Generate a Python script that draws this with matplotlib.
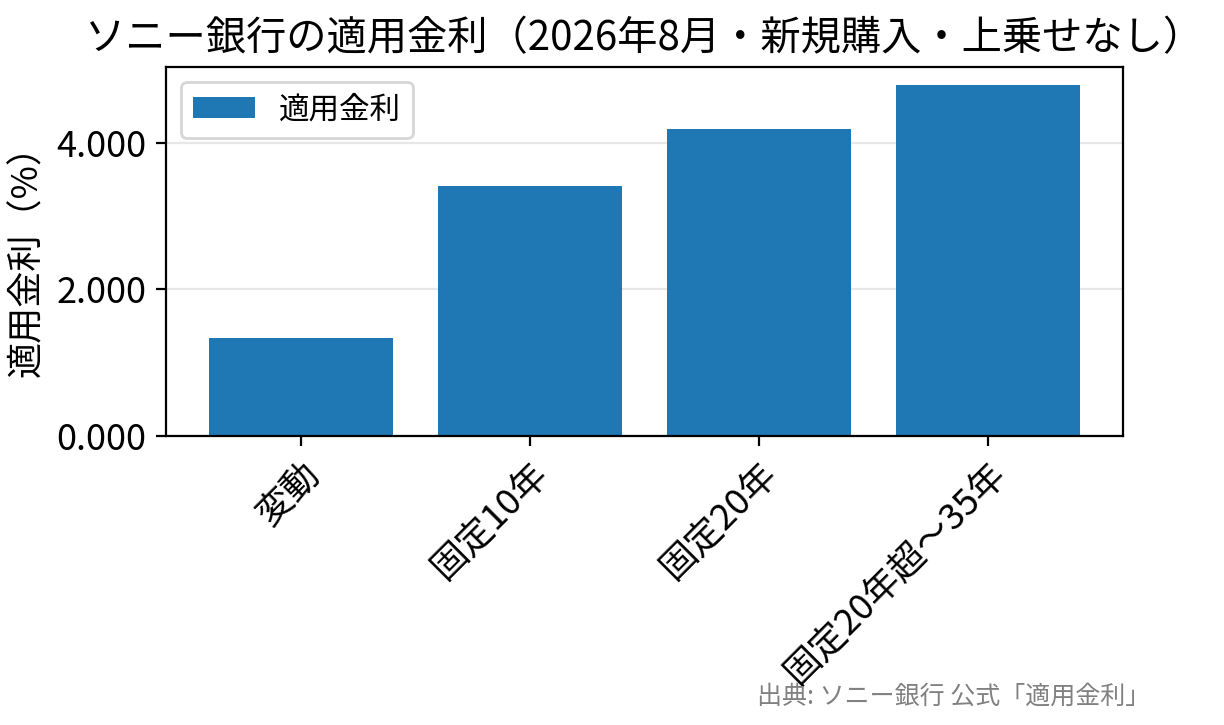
import matplotlib
matplotlib.use("Agg")
import matplotlib.pyplot as plt

plt.rcParams['font.family'] = ['Noto Sans CJK JP', 'DejaVu Sans']

# 適用金利データ（%）
categories = ["変動", "固定10年", "固定20年", "固定20年超～35年"]
rates = [1.34, 3.41, 4.19, 4.79]

fig = plt.figure(figsize=(6.12, 3.625), dpi=200)
ax = fig.add_axes([0.1356, 0.3986, 0.7819, 0.509])

ax.bar(categories, rates, width=0.8, color='#1f77b4', label='適用金利')
ax.set_ylabel("適用金利（%）", fontsize=13)
ax.set_title("ソニー銀行の適用金利（2026年8月・新規購入・上乗せなし）", fontsize=14.5)
ax.yaxis.set_major_formatter(matplotlib.ticker.FormatStrFormatter('%.3f'))
ax.set_yticks([0, 2, 4])
ax.tick_params(axis='y', labelsize=13)
ax.tick_params(axis='x', labelsize=13)
plt.setp(ax.get_xticklabels(), rotation=45, ha='right', rotation_mode='anchor')
ax.grid(axis='y', alpha=0.3)
ax.set_axisbelow(True)
ax.legend(loc='upper left', fontsize=11)

fig.text(0.94, 0.03, "出典: ソニー銀行 公式「適用金利」", ha='right', fontsize=9, color='gray')

fig.savefig("out.png", dpi=200)
